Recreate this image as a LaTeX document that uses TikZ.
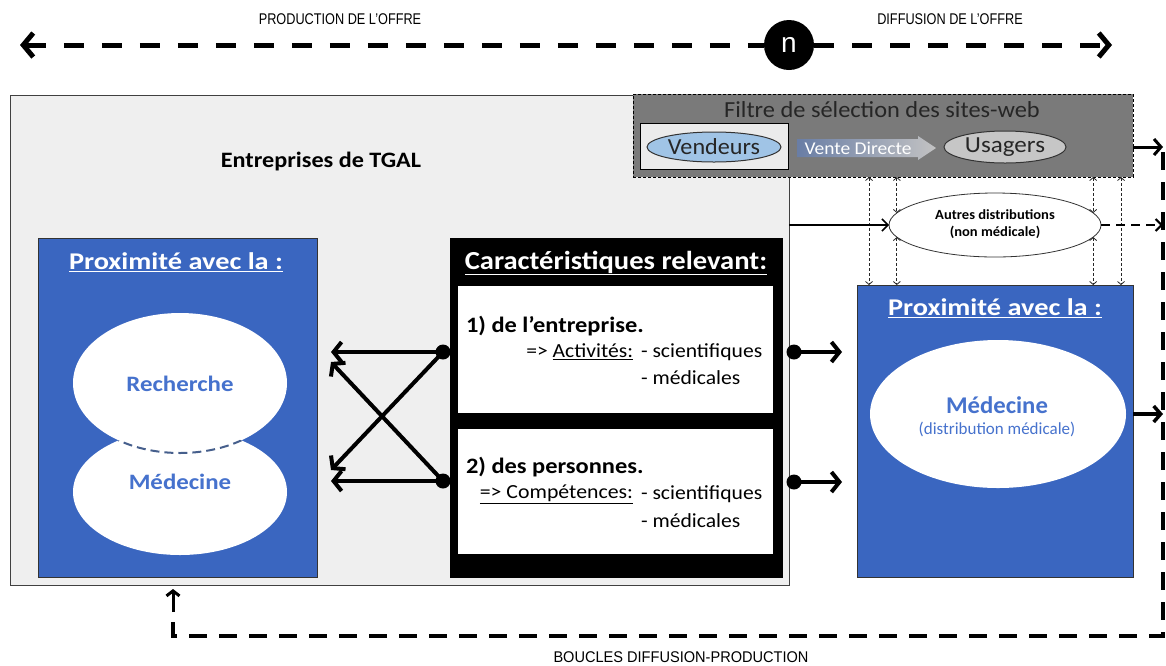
\documentclass[tikz,border=0pt]{standalone}
\usepackage{fontspec}
\setmainfont{Carlito}
\newfontfamily\arialfont{Liberation Sans}
\usetikzlibrary{arrows.meta,shapes.geometric,calc}
\definecolor{boxblue}{RGB}{58,102,192}
\definecolor{txtblue}{RGB}{70,114,205}
\definecolor{lgray}{RGB}{239,239,239}
\definecolor{fgray}{RGB}{122,122,122}
\definecolor{vblue}{RGB}{160,196,230}
\definecolor{ugray}{RGB}{198,198,198}
\definecolor{arcblue}{RGB}{70,95,140}
\newcommand{\myfs}[2]{\fontsize{#1}{#2}\selectfont}
\newcommand{\wx}[2]{\scalebox{#1}[1]{#2}}
\begin{document}
\begin{tikzpicture}[x=1pt,y=-1pt,
  every node/.style={inner sep=0pt, outer sep=0pt},
  panel/.style={rectangle, anchor=north west, line width=1pt},
  bluebox/.style={panel, fill=boxblue, draw=black!80},
  whiteell/.style={ellipse, fill=white},
  wtitle/.style={text=white, font=\myfs{24}{28}\bfseries},
  thk/.style={line width=4pt, -{Straight Barb[length=8pt,width=20pt]}},
  dotn/.style={circle, fill=black, minimum size=15pt},
  dotarr/.style={line width=0.8pt, black!85, dash pattern=on 3pt off 2pt, {Straight Barb[length=3pt,width=7pt]}-{Straight Barb[length=3pt,width=7pt]}},
  bigdash/.style={line width=5pt, dash pattern=on 20pt off 18pt},
  loopdash/.style={line width=4pt, dash pattern=on 18pt off 12pt},
  toplabel/.style={font=\arialfont\myfs{15.5}{18}}
]
\useasboundingbox (0,0) rectangle (1166,665);
\fill[white] (0,0) rectangle (1166,665);

% ---------- top arrow ----------
\node[circle, fill=black, minimum size=50pt, text=white, font=\arialfont\myfs{28}{30}] (n) at (789,45) {n};
\coordinate (tl) at (20,45);
\coordinate (tr) at (1112,45);
\draw[bigdash, {Straight Barb[length=10pt,width=24pt]}-] (tl) -- (n);
\draw[bigdash, -{Straight Barb[length=10pt,width=24pt]}] (n) -- (tr);
\node[toplabel] (lprod) at (340,19) {\wx{0.82}{PRODUCTION DE L’OFFRE}};
\node[toplabel] (ldiff) at (950,19) {\wx{0.82}{DIFFUSION DE L’OFFRE}};

% ---------- big gray box ----------
\node[panel, fill=lgray, draw=black!75, minimum width=779pt, minimum height=490pt] (gbox) at (10,95) {};
\node[font=\myfs{22}{24}\bfseries] (gtitle) at (321,162) {\wx{1.1}{Entreprises de TGAL}};

% ---------- filter box ----------
\node[panel, fill=fgray, draw=black, dash pattern=on 3pt off 2pt, minimum width=500pt, minimum height=83pt] (filt) at (633,94) {};
\node[font=\myfs{23}{25}, text=black!85] (ftitle) at (882,110) {\wx{1.06}{Filtre de sélection des sites-web}};
\node[panel, fill=black!8, draw=black, minimum width=148pt, minimum height=46pt] (vbox) at (640,123) {};
\node[ellipse, fill=vblue, draw=black!80, line width=1pt, minimum width=134pt, minimum height=30pt, font=\myfs{23}{25}, text=black!85] (vend) at (714,147) {\wx{1.05}{Vendeurs}};
\shade[left color={rgb,255:red,105;green,125;blue,165}, right color={rgb,255:red,195;green,195;blue,195}]
  (797,139) -- (918,139) -- (918,136) -- (936,148) -- (918,160) -- (918,157) -- (797,157) -- cycle;
\node[font=\myfs{18}{20}, text=white] (vd) at (858,148) {\wx{1.08}{Vente Directe}};
\node[ellipse, fill=ugray, draw=black!80, line width=1pt, minimum width=122pt, minimum height=32pt, font=\myfs{23}{25}, text=black!85] (usag) at (1005,147) {\wx{1.09}{Usagers}};

% ---------- left blue box ----------
\node[bluebox, minimum width=279pt, minimum height=339pt] (lbox) at (38,238) {};
\node[wtitle] (ltitle) at (176,262) {\wx{1.18}{\underline{Proximité avec la :}}};
\node[whiteell, minimum width=214pt, minimum height=126pt] (med) at (180,492) {};
\node[whiteell, minimum width=214pt, minimum height=140pt] (rech) at (180,383) {};
\begin{scope}
  \clip (180,492) ellipse [x radius=107pt, y radius=63pt];
  \draw[arcblue, line width=2pt, dash pattern=on 9pt off 5pt] (180,383) ellipse [x radius=107pt, y radius=70pt];
\end{scope}
\node[font=\myfs{22}{24}\bfseries, text=txtblue] (trech) at (180,384) {\wx{1.13}{Recherche}};
\node[font=\myfs{22}{24}\bfseries, text=txtblue] (tmed) at (180,482) {\wx{1.13}{Médecine}};

% ---------- middle black box ----------
\node[panel, fill=black, draw=black, minimum width=332pt, minimum height=339pt] (cbox) at (450,238) {};
\node[font=\myfs{26}{30}\bfseries, text=white] (ctitle) at (616,263) {\wx{1.1}{\underline{Caractéristiques relevant:}}};
\node[panel, fill=white, minimum width=315pt, minimum height=127pt] (c1) at (458,286) {};
\node[panel, fill=white, minimum width=315pt, minimum height=125pt] (c2) at (458,429) {};
\node[anchor=west, font=\myfs{22}{24}\bfseries] (c1a) at (466,326) {\wx{1.11}{1) de l’entreprise.}};
\node[anchor=east, font=\myfs{20}{22}] (c1b) at (633,352) {\wx{1.08}{=> \underline{Activités:}}};
\node[anchor=west, font=\myfs{20}{22}] (c1c) at (641,352) {\wx{1.08}{- scientifiques}};
\node[anchor=west, font=\myfs{20}{22}] (c1d) at (641,378) {\wx{1.08}{- médicales}};
\node[anchor=west, font=\myfs{22}{24}\bfseries] (c2a) at (466,467) {\wx{1.11}{2) des personnes.}};
\node[anchor=east, font=\myfs{20}{22}] (c2b) at (633,494) {\wx{1.09}{\underline{=> Compétences:}}};
\node[anchor=west, font=\myfs{20}{22}] (c2c) at (641,494) {\wx{1.08}{- scientifiques}};
\node[anchor=west, font=\myfs{20}{22}] (c2d) at (641,521) {\wx{1.08}{- médicales}};

% cross arrows
\node[dotn] (d1) at (443,352) {};
\node[dotn] (d2) at (443,481) {};
\coordinate (la1) at (331,352);
\coordinate (la2) at (331,470);
\coordinate (la3) at (331,481);
\coordinate (la4) at (331,362);
\draw[thk] (d1.center) -- (la1);
\draw[thk] (d1.center) -- (la2);
\draw[thk] (d2.center) -- (la3);
\draw[thk] (d2.center) -- (la4);

% right dots
\node[dotn] (d3) at (794,352) {};
\node[dotn] (d4) at (794,482) {};
\coordinate (ra1) at (842,352);
\coordinate (ra2) at (842,482);
\draw[thk] (d3.center) -- (ra1);
\draw[thk] (d4.center) -- (ra2);

% ---------- right blue box ----------
\node[bluebox, minimum width=276pt, minimum height=292pt] (rbox) at (857,285) {};
\node[wtitle] (rtitle) at (995,308) {\wx{1.18}{\underline{Proximité avec la :}}};
\node[whiteell, minimum width=256pt, minimum height=148pt] (rmed) at (998,414) {};
\node[font=\myfs{24}{26}\bfseries, text=txtblue] (rmt) at (997,405) {\wx{1.03}{Médecine}};
\node[font=\myfs{17}{19}, text=txtblue] (rmd) at (997,429) {(distribution médicale)};

% ---------- autres distributions ----------
\node[ellipse, fill=white, draw=black!80, line width=0.8pt, minimum width=212pt, minimum height=64pt, font=\myfs{14}{17}\bfseries] (aut) at (995,225) {\wx{1.04}{\begin{tabular}{@{}c@{}}Autres distributions\\(non médicale)\end{tabular}}};

% dotted vertical arrows
\coordinate (v1) at (869,0);
\coordinate (v4) at (1121,0);
\draw[dotarr] (filt.south -| v1) -- (rbox.north -| v1);
\draw[dotarr] (filt.south -| v4) -- (rbox.north -| v4);
\draw[dotarr] (filt.south -| aut.173) -- (aut.173);
\draw[dotarr] (aut.187) -- (rbox.north -| aut.187);
\draw[dotarr] (filt.south -| aut.7) -- (aut.7);
\draw[dotarr] (aut.353) -- (rbox.north -| aut.353);

% connectors to right edge
\coordinate (fr) at (1163,147);
\draw[line width=3pt, -{Straight Barb[length=7pt,width=16pt]}] (fr -| filt.east) -- (fr);
\draw[line width=1.5pt, -{Straight Barb[length=6pt,width=12pt]}] (gbox.east |- aut) -- (aut.west);
\draw[line width=2pt, dash pattern=on 9pt off 6pt, -{Straight Barb[length=6pt,width=12pt]}] (aut.east) -- (aut.east -| fr);
\draw[line width=3.5pt, -{Straight Barb[length=7pt,width=16pt]}] (rbox.east |- rmed) -- (rmed -| fr);

% loop
\coordinate (lp0) at (1163,152);
\coordinate (lp1) at (1163,636);
\coordinate (lp2) at (173,636);
\coordinate (lp25) at (173,612);
\coordinate (lp3) at (173,589);
\draw[loopdash] (lp0) -- (lp1) -- (lp2) -- ($(lp2)+(0,-14)$);
\draw[line width=3pt, -{Straight Barb[length=5pt,width=13pt]}] (lp25) -- (lp3);
\node[toplabel] (lboucle) at (681,657) {\wx{0.94}{BOUCLES DIFFUSION-PRODUCTION}};
\end{tikzpicture}
\end{document}
